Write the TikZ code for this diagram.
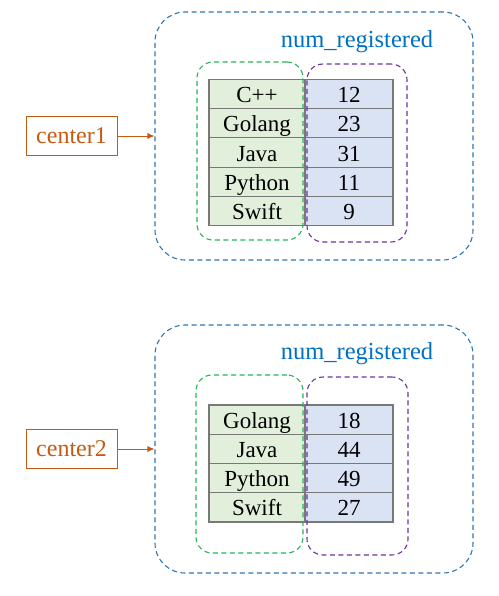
\documentclass[tikz,border=0pt]{standalone}
\usepackage{fontspec}
\setmainfont{Liberation Serif}
\usetikzlibrary{arrows.meta}
\definecolor{regblue}{RGB}{46,117,182}
\definecolor{titleblue}{RGB}{0,112,192}
\definecolor{keygreen}{RGB}{40,180,90}
\definecolor{valpurple}{RGB}{112,48,160}
\definecolor{centerorange}{RGB}{197,90,17}
\definecolor{cellgray}{RGB}{120,120,120}
\definecolor{keyfill}{RGB}{226,239,218}
\definecolor{valfill}{RGB}{218,227,243}
\tikzset{
  cell/.style={draw=cellgray, line width=1.2pt, minimum height=29.2pt, inner sep=0pt,
    text height=19pt, text depth=2pt, font=\fontsize{23}{23}\selectfont},
  keycell/.style={cell, fill=keyfill, minimum width=96pt},
  valcell/.style={cell, fill=valfill, minimum width=88pt},
  dashbox/.style={draw, dashed, dash pattern=on 5pt off 3.5pt, line width=1.1pt,
    rounded corners=16pt, minimum height=178pt, inner sep=0pt},
  regbox/.style={draw=regblue, dashed, dash pattern=on 5pt off 3.5pt, line width=1.1pt,
    rounded corners=30pt, minimum width=318pt, minimum height=248pt, inner sep=0pt},
  centerbox/.style={draw=centerorange, text=centerorange, line width=1pt,
    minimum width=91pt, minimum height=39pt, inner sep=0pt, font=\fontsize{24}{24}\selectfont},
  title/.style={text=titleblue, font=\fontsize{24.5}{24.5}\selectfont, inner sep=0pt},
}
\begin{document}
\begin{tikzpicture}[x=1pt, y=-1pt]
  \useasboundingbox (0,0) rectangle (498,596);
  % first map
  \path
    (257,94.1) node[keycell] (k11){C++}
    (257,123.3) node[keycell] (k12){Golang}
    (257,152.5) node[keycell] (k13){Java}
    (257,181.7) node[keycell] (k14){Python}
    (257,210.9) node[keycell] (k15){Swift}
    (349,94.1) node[valcell] (v11){12}
    (349,123.3) node[valcell] (v12){23}
    (349,152.5) node[valcell] (v13){31}
    (349,181.7) node[valcell] (v14){11}
    (349,210.9) node[valcell] (v15){9};
  \path
    (250,151) node[dashbox, draw=keygreen, minimum width=106pt] (keys1){}
    (357,153) node[dashbox, draw=valpurple, minimum width=100pt] (vals1){}
    (314,136) node[regbox] (reg1){}
    (357,42) node[title] (name1){num\_registered}
    (71.5,136) node[centerbox] (center1){center1};
  % second map
  \path
    (257,419.6) node[keycell] (k21){Golang}
    (257,448.9) node[keycell] (k22){Java}
    (257,478.1) node[keycell] (k23){Python}
    (257,507.4) node[keycell] (k24){Swift}
    (349,419.6) node[valcell] (v21){18}
    (349,448.9) node[valcell] (v22){44}
    (349,478.1) node[valcell] (v23){49}
    (349,507.4) node[valcell] (v24){27};
  \path
    (249.5,464) node[dashbox, draw=keygreen, minimum width=107pt] (keys2){}
    (357.5,466) node[dashbox, draw=valpurple, minimum width=101pt] (vals2){}
    (314,449) node[regbox] (reg2){}
    (357,354) node[title] (name2){num\_registered}
    (71.5,449) node[centerbox] (center2){center2};
  \begin{scope}[draw=centerorange, line width=0.8pt, -{Latex[length=7pt, width=6pt]}]
    \draw (center1) -- (reg1);
    \draw (center2) -- (reg2);
  \end{scope}
\end{tikzpicture}
\end{document}
